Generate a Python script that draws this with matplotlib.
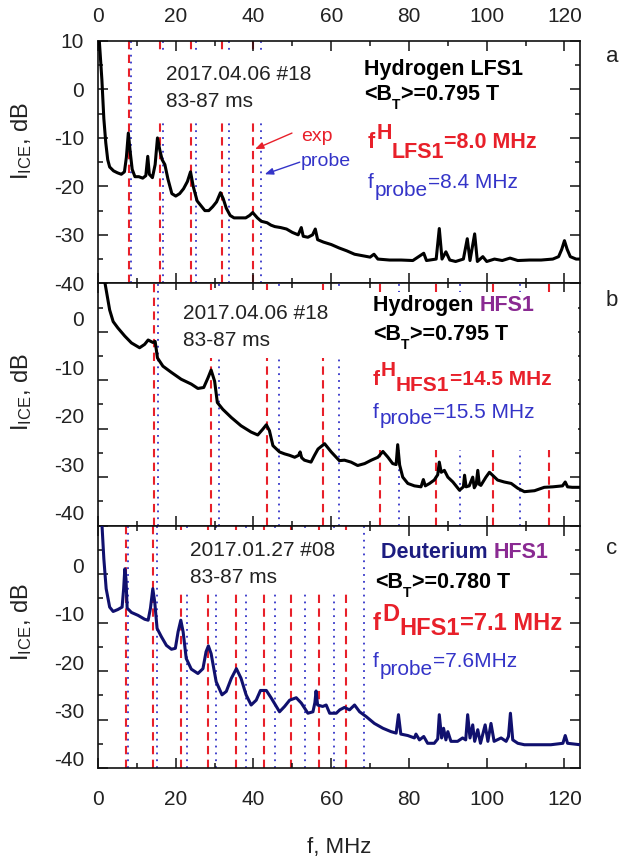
import matplotlib
matplotlib.use("Agg")
import matplotlib.pyplot as plt
import numpy as np
from matplotlib.ticker import MultipleLocator
from matplotlib.transforms import ScaledTranslation
from matplotlib.patches import Rectangle

plt.rcParams['font.family'] = ['Liberation Sans', 'DejaVu Sans']
plt.rcParams['mathtext.fontset'] = 'custom'
plt.rcParams['mathtext.rm'] = 'Liberation Sans'
plt.rcParams['mathtext.it'] = 'Liberation Sans:italic'
plt.rcParams['mathtext.bf'] = 'Liberation Sans:bold'
plt.rcParams['axes.unicode_minus'] = False

# ---------------- data ----------------
# panel a: Hydrogen LFS1 (2017.04.06 #18)
a_f = [0.3, 1.0, 1.5, 2.0, 2.5, 3.0, 4.0, 5.0, 6.0, 6.8, 7.3, 7.8, 8.3, 8.8, 9.5,
       10.5, 11.5, 12.3, 12.8, 13.2, 14.0, 14.7, 15.3, 15.9, 16.5, 17.2, 18.0, 19.0,
       20.0, 21.0, 22.0, 23.0, 23.8, 24.5, 25.5, 26.5, 27.5, 28.5, 29.5, 30.5, 31.5,
       32.2, 33.0, 34.0, 35.0, 36.5, 38.0, 39.0, 39.8, 41.0, 42.0, 43.5, 44.5, 45.5,
       47.0, 48.5, 50.0, 51.5, 52.3, 52.8, 54.0, 55.2, 55.9, 56.5, 58.0, 60.0, 62.0,
       64.0, 66.0, 68.0, 70.0, 71.0, 72.0, 75.0, 78.0, 81.0, 83.8, 84.5, 87.0, 87.8,
       88.5, 89.5, 90.5, 92.0, 94.0, 95.0, 95.7, 96.9, 97.6, 99.0, 100.0, 102.0,
       104.0, 106.0, 108.0, 111.0, 114.0, 117.0, 118.5, 119.3, 120.0, 120.7, 121.5,
       123.0, 124.0]
a_db = [10.5, 2.0, -6.0, -11.0, -14.5, -16.0, -16.8, -17.2, -17.5, -17.0, -14.0, -9.0,
        -13.0, -16.5, -18.0, -18.0, -18.3, -17.8, -13.8, -17.5, -18.2, -15.5, -10.0,
        -12.5, -14.5, -15.5, -18.5, -21.5, -22.0, -21.5, -20.5, -19.0, -17.0, -20.0,
        -23.0, -24.0, -25.0, -25.0, -24.2, -23.2, -21.3, -22.5, -24.5, -26.0, -26.5,
        -26.5, -26.5, -26.0, -25.4, -26.5, -27.2, -27.5, -28.0, -28.3, -28.5, -28.8,
        -29.5, -30.0, -28.5, -30.3, -30.5, -30.0, -28.8, -31.0, -31.5, -32.0, -32.7,
        -33.3, -34.0, -34.3, -34.6, -34.0, -35.0, -35.2, -35.2, -35.3, -33.8, -35.3,
        -35.0, -28.7, -35.0, -33.5, -35.2, -35.5, -35.0, -30.8, -35.3, -29.8, -35.5,
        -34.5, -35.5, -35.0, -35.3, -34.8, -35.3, -35.2, -35.2, -35.0, -34.5, -33.0,
        -31.2, -33.0, -34.5, -35.0, -35.0]

# panel b: Hydrogen HFS1 (2017.04.06 #18)
b_f = [1.7, 3.0, 3.9, 5.1, 6.9, 8.6, 10.7, 12.0, 12.9, 14.1, 14.7, 15.3, 16.7, 18.9,
       21.4, 24.0, 25.7, 27.2, 28.3, 29.1, 30.0, 30.7, 32.1, 34.3, 36.8, 39.4, 41.1,
       42.4, 43.3, 44.1, 45.0, 46.7, 48.0, 49.3, 50.6, 51.6, 52.0, 52.4, 53.1, 54.8,
       55.7, 56.6, 58.3, 60.0, 62.1, 63.4, 65.1, 66.8, 68.6, 70.3, 72.0, 73.3, 74.6,
       75.8, 76.7, 77.1, 77.6, 78.4, 79.7, 81.4, 83.1, 83.7, 84.2, 85.3, 86.5, 87.4,
       87.8, 88.3, 89.1, 90.0, 91.3, 93.0, 94.0, 94.3, 94.7, 95.5, 96.4, 96.8, 97.3,
       97.7, 98.1, 98.5, 99.8, 100.7, 101.5, 102.8, 104.5, 106.3, 108.0, 109.7,
       112.3, 114.8, 117.0, 119.5, 120.2, 120.8, 122.0, 124.0]
b_db = [10.5, 4.5, 2.1, 0.8, -0.9, -2.3, -3.3, -2.6, -1.7, -2.2, -2.0, -5.4, -7.1,
        -8.4, -9.8, -10.8, -11.7, -11.5, -9.5, -7.9, -10.2, -14.6, -16.0, -17.7,
        -19.4, -20.7, -21.3, -20.1, -19.2, -20.4, -23.5, -24.8, -25.2, -25.5, -25.9,
        -25.5, -24.8, -26.0, -26.5, -26.9, -25.5, -24.2, -23.1, -24.8, -26.6, -26.5,
        -26.9, -27.6, -27.2, -26.5, -25.9, -24.7, -25.9, -27.2, -27.4, -23.3, -27.5,
        -30.0, -31.3, -31.8, -32.0, -30.5, -31.8, -31.3, -30.6, -29.5, -26.9, -29.0,
        -28.6, -30.0, -31.0, -32.7, -32.0, -29.6, -32.0, -31.8, -30.0, -32.2, -31.5,
        -28.6, -31.5, -31.7, -30.0, -29.0, -29.6, -30.6, -31.0, -31.3, -32.3, -33.0,
        -32.8, -32.1, -32.0, -31.8, -31.0, -32.0, -32.1, -32.1]

# panel c: Deuterium HFS1 (2017.01.27 #08)
c_f = [1.0, 1.5, 2.1, 3.0, 3.9, 5.1, 6.2, 6.6, 6.9, 7.2, 7.5, 8.6, 10.3, 12.0, 12.9,
       13.5, 14.1, 14.6, 15.2, 16.3, 17.6, 18.9, 19.9, 20.6, 21.3, 21.9, 22.7, 24.0,
       25.7, 27.0, 27.8, 28.4, 29.1, 30.4, 31.9, 33.0, 34.3, 35.6, 36.8, 38.1, 39.4,
       40.7, 41.8, 43.3, 44.6, 46.7, 48.0, 49.3, 51.0, 52.3, 54.0, 55.3, 55.8, 56.1,
       56.5, 57.8, 58.7, 59.6, 61.3, 62.2, 63.4, 64.7, 66.0, 67.3, 69.0, 71.1, 73.3,
       75.4, 76.7, 77.3, 77.9, 79.7, 81.4, 81.8, 82.7, 83.8, 84.8, 86.5, 87.4, 87.8,
       88.4, 88.9, 89.5, 90.0, 90.8, 92.5, 93.8, 94.6, 95.1, 95.7, 96.4, 96.9, 97.7,
       98.4, 99.6, 100.3, 101.1, 101.9, 103.7, 105.0, 105.6, 106.1, 106.7, 108.0,
       109.7, 113.1, 116.5, 119.6, 120.2, 120.8, 124.0]
c_db = [10.5, 3.2, -3.0, -6.8, -7.7, -7.3, -6.8, -3.0, 1.1, -1.0, -7.0, -7.9, -8.5,
        -9.3, -9.5, -7.0, -3.0, -5.8, -11.2, -12.9, -14.7, -15.5, -15.3, -11.9, -9.5,
        -11.9, -17.4, -19.6, -20.5, -19.5, -16.0, -14.8, -16.4, -22.2, -24.9, -24.2,
        -21.5, -19.5, -21.5, -24.9, -27.0, -26.0, -24.0, -24.0, -25.6, -28.4, -27.3,
        -26.0, -25.5, -26.6, -28.7, -28.4, -26.5, -24.1, -27.0, -27.3, -27.0, -28.7,
        -28.7, -28.0, -27.5, -28.0, -27.0, -28.4, -29.4, -30.8, -31.8, -32.5, -32.8,
        -29.0, -33.0, -33.3, -33.8, -33.0, -34.2, -33.5, -34.9, -34.9, -34.0, -29.0,
        -33.8, -31.8, -34.2, -32.5, -34.5, -34.5, -33.8, -34.2, -29.0, -33.8, -31.1,
        -34.5, -32.1, -34.9, -31.1, -34.5, -30.8, -34.5, -33.8, -34.5, -33.5, -28.7,
        -34.2, -34.9, -35.2, -35.2, -35.2, -34.9, -33.3, -34.9, -35.2]

# harmonic base frequencies (MHz) and number of harmonics drawn
a_exp, a_probe, a_n_exp, a_n_probe = 8.0, 8.4, 5, 5
b_exp, b_probe, b_n_exp, b_n_probe = 14.5, 15.5, 8, 7
c_exp, c_probe, c_n_exp, c_n_probe = 7.1, 7.6, 9, 9

x_ticks = [0, 20, 40, 60, 80, 100, 120]
y_ticks = [10, 0, -10, -20, -30, -40]

# ---------------- layout ----------------
W, H = 621, 865
fig = plt.figure(figsize=(W / 100, H / 100), dpi=100)

RED = '#e8202a'
BLUE = '#3434c8'
PURPLE = '#8a2a92'
NAVY = '#1c1c80'
TXT = '#222222'

left = 98 / W
width = (580 - 98) / W
ph = 242.3 / H
bots = [1 - 283.3 / H, 1 - 525.6 / H, 1 - 768 / H]
axes = [fig.add_axes([left, b, width, ph]) for b in bots]

curves = [(a_f, a_db, 'black'), (b_f, b_db, 'black'), (c_f, c_db, '#10106e')]
harm = [(a_exp, a_n_exp, a_probe, a_n_probe),
        (b_exp, b_n_exp, b_probe, b_n_probe),
        (c_exp, c_n_exp, c_probe, c_n_probe)]
label_shift_px = [0, 13, 9]

for i, ax in enumerate(axes):
    f, d, col = curves[i]
    ax.plot(f, d, color=col, lw=2.2, zorder=4, solid_joinstyle='round')
    fe, ne, fp, npb = harm[i]
    for n in range(1, ne + 1):
        ax.axvline(fe * n, color=RED, lw=1.5, ls=(0, (4, 2.6)), zorder=1)
    for n in range(1, npb + 1):
        ax.axvline(fp * n, color=BLUE, lw=1.3, ls=(0, (1, 2.8)), zorder=1)
    ax.set_xlim(0, 124)
    ax.set_ylim(-40, 10)
    ax.xaxis.set_major_locator(MultipleLocator(20))
    ax.xaxis.set_minor_locator(MultipleLocator(10))
    ax.set_yticks(y_ticks)
    ax.yaxis.set_minor_locator(MultipleLocator(5))
    labs = [str(v) for v in y_ticks]
    if i > 0:
        labs[0] = ''
    ax.set_yticklabels(labs)
    ax.set_xticks(x_ticks)
    ax.set_xticklabels([str(v) for v in x_ticks])
    for s in ax.spines.values():
        s.set_linewidth(1.2)
        s.set_color('#111111')
    ax.tick_params(which='both', direction='in', top=True, right=True,
                   width=1.1, color='#111111', labelsize=15, labelcolor=TXT)
    ax.tick_params(which='major', length=7)
    ax.tick_params(which='minor', length=3.6)
    ax.tick_params(axis='y', pad=10)
    ax.tick_params(axis='x', labeltop=(i == 0), labelbottom=(i == 2))
    ax.tick_params(axis='x', which='major', pad=(11 if i == 0 else 16))
    if label_shift_px[i]:
        off = ScaledTranslation(0, label_shift_px[i] / 100, fig.dpi_scale_trans)
        for t in ax.yaxis.get_major_ticks():
            t.label1.set_transform(t.label1.get_transform() + off)

# white boxes behind the text blocks (occlude the harmonic lines)
def white_box(ax, x0, x1, y0, y1, top_px, h_px=242.3):
    ax.add_patch(Rectangle(((x0 - 98) / 482, 1 - (y1 - top_px) / h_px),
                           (x1 - x0) / 482, (y1 - y0) / h_px,
                           transform=ax.transAxes, fc='white', ec='none', zorder=2))

white_box(axes[0], 150, 320, 53, 122, 41)
white_box(axes[1], 172, 345, 290, 358, 283.3)
white_box(axes[1], 365, 578, 292, 450, 283.3)
white_box(axes[2], 175, 352, 530, 593, 525.6)

# ---------------- text ----------------
def rich(ax, xp, yp, parts, **common):
    prev, prev_dy = None, 0
    for s, dy, dx, props in parts:
        kw = dict(common)
        kw.update(props)
        if prev is None:
            t = ax.text(xp / W, 1 - (yp - dy) / H, s, transform=fig.transFigure,
                        ha='left', va='baseline', zorder=6, **kw)
        else:
            t = ax.annotate(s, xy=(1, 0), xycoords=prev,
                            xytext=(dx, dy - prev_dy), textcoords='offset pixels',
                            ha='left', va='bottom', zorder=6,
                            annotation_clip=False, **kw)
        prev, prev_dy = t, dy
    return prev

def plain(ax, xp, yp, s, **kw):
    ax.text(xp / W, 1 - yp / H, s, transform=fig.transFigure, ha='left',
            va='baseline', zorder=6, **kw)

# panel a
ax = axes[0]
plain(ax, 166, 80, '2017.04.06 #18', fontsize=15, color=TXT)
plain(ax, 166, 107, '83-87 ms', fontsize=15, color=TXT)
plain(ax, 364, 75, 'Hydrogen LFS1', fontsize=15.5, color='black', weight='bold')
rich(ax, 364, 100, [('<B', 0, 0, {}), ('T', -7, 0, dict(fontsize=10)),
                    ('>=0.795 T', 0, 1, {})], fontsize=15.5, color='black', weight='bold')
rich(ax, 368, 148, [('f', 0, 0, {}), ('H', 9, 1, {}), ('LFS1', -10, 0, {}),
                    ('=8.0 MHz', 0, 0, {})], fontsize=15.5, color=RED, weight='bold')
rich(ax, 368, 188, [('f', 0, 0, {}), ('probe', -8, 1, {}), ('=8.4 MHz', 0, 0, {})],
     fontsize=15, color=BLUE)
plain(ax, 301, 141, 'exp', fontsize=14, color=RED)
plain(ax, 301, 166, 'probe', fontsize=14, color=BLUE)
ax.annotate('', xy=(40.4, -12.3), xytext=(49.9, -9.0),
            arrowprops=dict(arrowstyle='-|>,head_length=0.5,head_width=0.2',
                            color=RED, lw=1.0, shrinkA=0, shrinkB=0), zorder=6)
ax.annotate('', xy=(42.9, -17.5), xytext=(51.9, -15.0),
            arrowprops=dict(arrowstyle='-|>,head_length=0.5,head_width=0.2',
                            color=BLUE, lw=1.0, shrinkA=0, shrinkB=0), zorder=6)

# panel b
ax = axes[1]
plain(ax, 183, 319, '2017.04.06 #18', fontsize=15, color=TXT)
plain(ax, 183, 346, '83-87 ms', fontsize=15, color=TXT)
rich(ax, 373, 311, [('Hydrogen ', 0, 0, {}), ('HFS1', 0, 0, dict(color=PURPLE))],
     fontsize=15.5, color='black', weight='bold')
rich(ax, 373, 340, [('<B', 0, 0, {}), ('T', -7, 0, dict(fontsize=10)),
                    ('>=0.795 T', 0, 1, {})], fontsize=15.5, color='black', weight='bold')
rich(ax, 373, 385, [('f', 0, 0, {}), ('H', 9, 1, {}), ('HFS1', -6, 0, {}),
                    ('=14.5 MHz', 0, 0, {})], fontsize=15, color=RED, weight='bold')
rich(ax, 373, 418, [('f', 0, 0, {}), ('probe', -6, 1, {}), ('=15.5 MHz', 0, 0, {})],
     fontsize=15, color=BLUE)

# panel c
ax = axes[2]
plain(ax, 190, 556, '2017.01.27 #08', fontsize=15, color=TXT)
plain(ax, 190, 583, '83-87 ms', fontsize=15, color=TXT)
rich(ax, 381, 558, [('Deuterium ', 0, 0, {}), ('HFS1', 0, 0, dict(color=PURPLE))],
     fontsize=15.5, color=NAVY, weight='bold')
rich(ax, 375, 588, [('<B', 0, 0, {}), ('T', -7, 0, dict(fontsize=10)),
                    ('>=0.780 T', 0, 1, {})], fontsize=15.5, color='black', weight='bold')
rich(ax, 373, 630, [('f', 0, 0, {}), ('D', 9, 1, {}), ('HFS1', -5, 0, {}),
                    ('=7.1 MHz', 0, 0, {})], fontsize=17, color=RED, weight='bold')
rich(ax, 373, 667, [('f', 0, 0, {}), ('probe', -8, 1, {}), ('=7.6MHz', 0, 0, {})],
     fontsize=15, color=BLUE)

# panel letters
for s, yp in [('a', 57), ('b', 300), ('c', 548)]:
    fig.text(612 / W, 1 - yp / H, s, ha='center', va='center', fontsize=16, color=TXT)

# y labels
for yp in [141, 392, 622]:
    fig.text(22 / W, 1 - yp / H, r'I$_{\mathregular{ICE}}$, dB', rotation=90,
             ha='center', va='center', fontsize=17, color=TXT)

fig.text(339 / W, 1 - 848 / H, 'f, MHz', ha='center', va='center', fontsize=16, color=TXT)

fig.savefig('out.png', dpi=100)
